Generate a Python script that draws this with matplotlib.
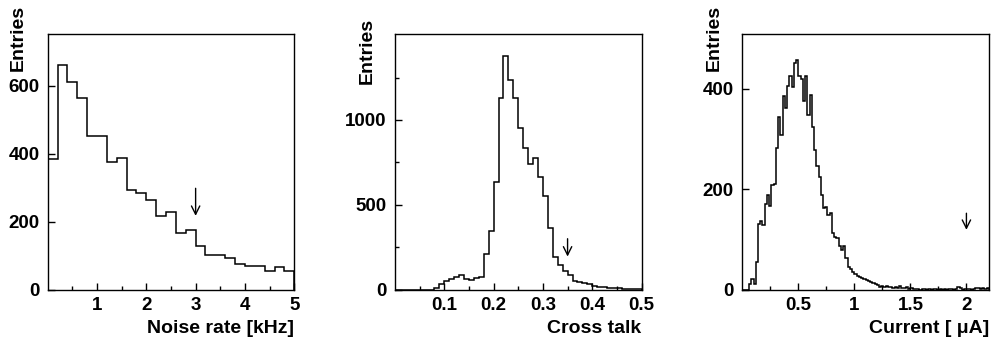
import numpy as np
import matplotlib
matplotlib.use('Agg')
import matplotlib.pyplot as plt

# Three histograms: noise rate, cross talk and current

plt.rcParams['font.family'] = ['Liberation Sans', 'DejaVu Sans']
plt.rcParams['font.weight'] = 'bold'

# Noise rate [kHz], bins of 0.2 from 0 to 5
noise_edges = np.linspace(0, 5, 26)
noise_counts = [383, 661, 611, 564, 453, 452, 375, 386, 292, 283, 264, 218, 228,
                168, 176, 129, 102, 103, 92, 75, 71, 71, 55, 68, 55]

# Cross talk, bins of 0.01 from 0 to 0.5
xtalk_edges = np.linspace(0, 0.5, 51)
xtalk_counts = [0, 0, 0, 0, 0, 0, 0, 0, 8, 31,
                53, 65, 73, 86, 65, 57, 69, 77, 208, 344,
                637, 1128, 1377, 1236, 1128, 951, 833, 741, 774, 666,
                552, 361, 191, 145, 112, 86, 53, 47, 39, 33,
                24, 18, 14, 10, 12, 8, 6, 4, 6, 4]

# Current [uA], bins of 0.02 from 0 to 2.2
current_edges = np.linspace(0, 2.2, 111)
current_counts = [0, 0, 0, 12, 22, 12, 55, 131, 137, 129,
                  171, 188, 166, 209, 210, 281, 344, 307, 385, 361,
                  405, 425, 403, 450, 456, 425, 420, 376, 425, 347,
                  387, 324, 278, 245, 225, 188, 162, 165, 149, 152,
                  113, 105, 102, 86, 78, 86, 62, 46, 42, 36,
                  31, 28, 26, 24, 21, 19, 17, 15, 13, 11,
                  9, 6, 7, 5, 8, 6, 5, 4, 6, 3,
                  7, 3, 3, 5, 2, 3, 2, 1, 1, 0,
                  1, 1, 0, 1, 0, 1, 1, 0, 1, 0,
                  1, 0, 1, 1, 0, 1, 5, 3, 0, 1,
                  2, 1, 0, 2, 3, 3, 2, 3, 2, 3]

# Cut positions marked by arrows (x, arrow top, arrow tip)
noise_cut = (3.0, 298, 217)
xtalk_cut = (0.35, 300, 195)
current_cut = (2.0, 152, 119)

fig = plt.figure(figsize=(9.92, 3.44), dpi=100)

panels = [
    # left, xlim, ylim, xticks, xminor, yticks, yminor, xlabel, entries pos
    (0.0481, (0, 5), (0, 751), [1, 2, 3, 4, 5], np.arange(0.5, 5, 1.0),
     [0, 200, 400, 600], [], 'Noise rate [kHz]', (-0.119, 1.115),
     noise_edges, noise_counts, noise_cut, ['1', '2', '3', '4', '5']),
    (0.3982, (0, 0.5), (0, 1505), [0.1, 0.2, 0.3, 0.4, 0.5], np.arange(0.05, 0.5, 0.1),
     [0, 500, 1000], [250, 750, 1250], 'Cross talk', (-0.112, 1.063),
     xtalk_edges, xtalk_counts, xtalk_cut, ['0.1', '0.2', '0.3', '0.4', '0.5']),
    (0.7483, (0, 2.2), (0, 508), [0.5, 1, 1.5, 2], [0.25, 0.75, 1.25, 1.75],
     [0, 200, 400], [], 'Current [ μA]', (-0.115, 1.115),
     current_edges, current_counts, current_cut, ['0.5', '1', '1.5', '2']),
]

for (left, xlim, ylim, xt, xmin_t, yt, ymin_t, xlab, ent,
     edges, counts, cut, xtl) in panels:
    ax = fig.add_axes([left, 0.158, 0.2485, 0.7424])
    ax.stairs(counts, edges, color='black', lw=1.1, baseline=0)
    ax.set_xlim(*xlim)
    ax.set_ylim(*ylim)

    ax.set_xticks(xt)
    ax.set_xticklabels(xtl)
    ax.set_xticks(xmin_t, minor=True)
    ax.set_yticks(yt)
    ax.set_yticks(ymin_t, minor=True)
    ax.tick_params(which='both', direction='in', labelsize=13.5, width=1.0)
    ax.tick_params(which='major', length=5)
    ax.tick_params(which='minor', length=3)
    ax.tick_params(axis='x', pad=5)
    ax.tick_params(axis='y', pad=6)
    for s in ax.spines.values():
        s.set_linewidth(1.0)

    # axis titles placed like ROOT: right aligned / top aligned
    ax.text(1.0, -0.17, xlab, transform=ax.transAxes, ha='right', va='baseline',
            fontsize=14, fontweight='bold')
    ax.text(ent[0], ent[1], 'Entries', transform=ax.transAxes, ha='center', va='top',
            rotation=90, fontsize=14, fontweight='bold')

    # arrow marking the cut
    ax.annotate('', xy=(cut[0], cut[2]), xytext=(cut[0], cut[1]),
                arrowprops=dict(arrowstyle='->,head_length=0.6,head_width=0.3',
                                color='black', lw=1.0, shrinkA=0, shrinkB=0))

plt.savefig('out.png', dpi=100)
